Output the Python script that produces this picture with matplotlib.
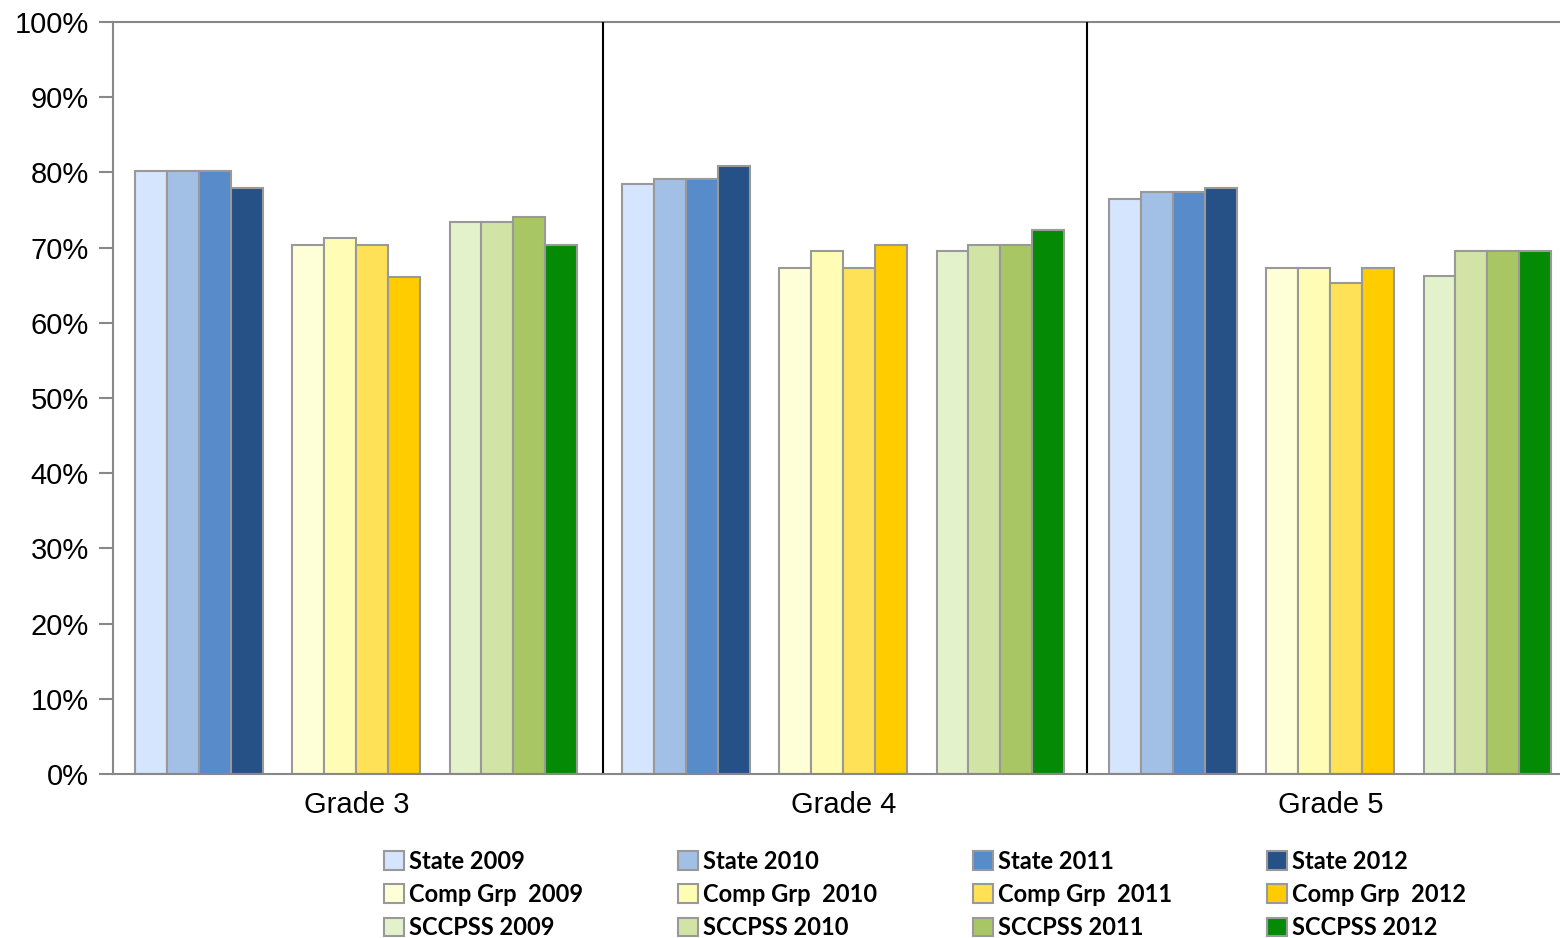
import matplotlib
matplotlib.use("Agg")
import matplotlib.pyplot as plt
from matplotlib.patches import Patch
import numpy as np

grades = ["Grade 3", "Grade 4", "Grade 5"]
years = ["2009", "2010", "2011", "2012"]
groups = ["State", "Comp Grp ", "SCCPSS"]

state = {
    "2009": [80.2, 78.5, 76.5],
    "2010": [80.2, 79.1, 77.4],
    "2011": [80.2, 79.1, 77.4],
    "2012": [77.9, 80.9, 77.9],
}
comp = {
    "2009": [70.3, 67.3, 67.3],
    "2010": [71.3, 69.5, 67.3],
    "2011": [70.3, 67.3, 65.3],
    "2012": [66.1, 70.3, 67.3],
}
sccpss = {
    "2009": [73.4, 69.5, 66.2],
    "2010": [73.4, 70.3, 69.5],
    "2011": [74.1, 70.3, 69.5],
    "2012": [70.3, 72.3, 69.5],
}
data = [state, comp, sccpss]

colors = [
    ["#D5E5FE", "#A2C0E6", "#588BCA", "#265186"],
    ["#FFFFD7", "#FFFDB5", "#FFE157", "#FFCC00"],
    ["#E4F2CC", "#D2E3A6", "#A8C764", "#058A05"],
]

W, H = 1560, 938
fig = plt.figure(figsize=(W / 100, H / 100), dpi=100)
ax = fig.add_axes([113 / W, 1 - 774 / H, 1 - 113 / W, (774 - 22) / H])

x = np.arange(len(grades))
bw = 0.0655
start = 0.045
pitch = 0.323
for g, grp in enumerate(data):
    for k, yr in enumerate(years):
        left = x - 0.5 + start + g * pitch + k * bw
        ax.bar(left, grp[yr], width=bw, align="edge", color=colors[g][k],
               edgecolor="#999999", linewidth=1.5, zorder=2)

for sep in [0.506, 1.5]:
    ax.plot([sep, sep], [0.3, 100], color="black", linewidth=1.5, zorder=3)

ax.set_xlim(-0.5, (1560 - 113) / 487 - 0.5)
ax.set_ylim(0, 100)
ax.set_yticks(np.arange(0, 101, 10))
ax.set_yticklabels([f"{v}%" for v in range(0, 101, 10)], fontsize=21,
                   family="Liberation Sans")
ax.set_xticks(x)
ax.set_xticklabels(grades, fontsize=21, family="Liberation Sans")
ax.tick_params(axis="x", length=0, pad=12)
ax.tick_params(axis="y", length=10, width=1.5, color="#888888", pad=7.5)
for s in ["left", "bottom", "top"]:
    ax.spines[s].set_color("#888888")
    ax.spines[s].set_linewidth(1.5)
ax.spines["right"].set_visible(False)

handles = []
for k, yr in enumerate(years):
    for g, name in enumerate(groups):
        handles.append(Patch(facecolor=colors[g][k], edgecolor="#999999",
                             linewidth=1.5, label=f"{name} {yr}"))
leg = fig.legend(handles=handles, ncol=4, loc="upper left",
                 bbox_to_anchor=(372 / W, 1 - 838 / H), frameon=False,
                 prop={"family": "Lato", "weight": "bold", "size": 17},
                 handlelength=0.85, handleheight=0.85, handletextpad=0.2,
                 columnspacing=4.05, labelspacing=0.43, borderpad=0)

fig.savefig("out.png", dpi=100)
